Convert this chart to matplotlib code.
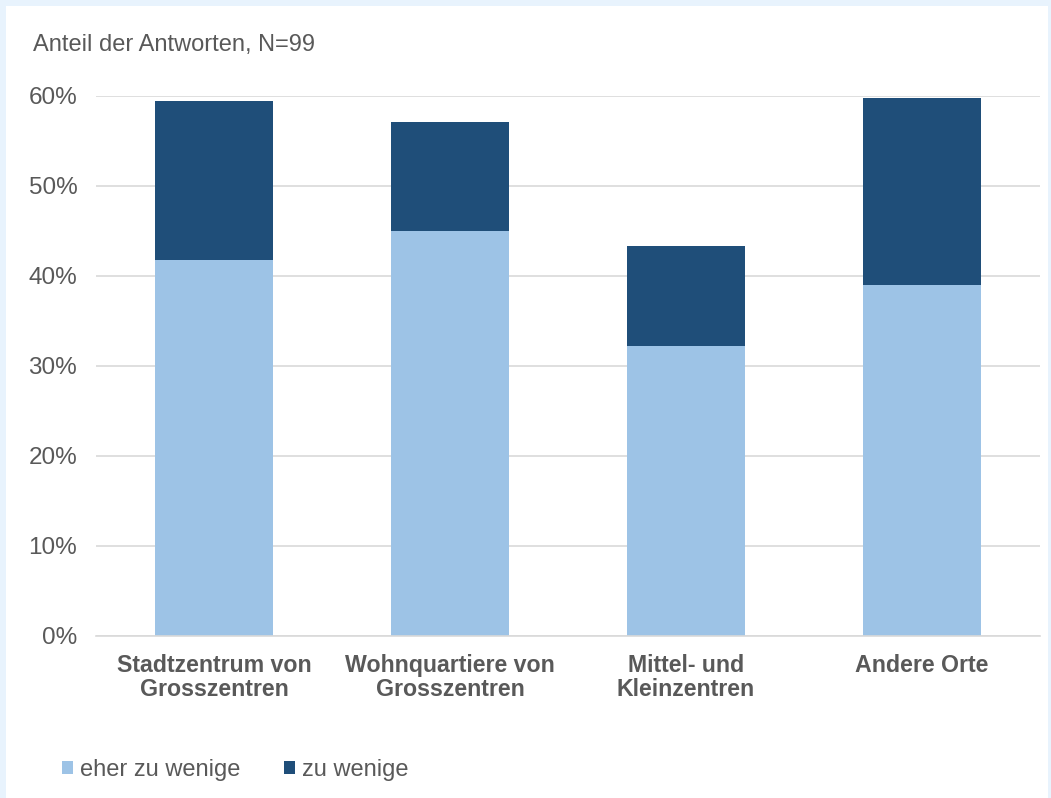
import matplotlib.pyplot as plt
from matplotlib.patches import Rectangle
from matplotlib.ticker import PercentFormatter

plt.rcParams['font.family'] = ['Liberation Sans', 'DejaVu Sans']

categories = ["Stadtzentrum von\nGrosszentren", "Wohnquartiere von\nGrosszentren",
              "Mittel- und\nKleinzentren", "Andere Orte"]
eher_zu_wenige = [41.8, 45.0, 32.2, 39.0]
zu_wenige = [17.6, 12.1, 11.1, 20.8]

light = "#9DC3E6"
dark = "#1F4E79"
text_col = "#595959"

W, H = 1051, 798
fig = plt.figure(figsize=(W / 100, H / 100), dpi=100)
fig.patch.set_facecolor("#E8F3FD")
# white panel inside the light blue frame
fig.patches.append(Rectangle((6 / W, 0), (1048 - 6) / W, (H - 6) / H,
                             transform=fig.transFigure, facecolor="white",
                             edgecolor="none", zorder=-10))

ax = fig.add_axes([96 / W, 1 - 636 / H, (1040 - 96) / W, (636 - 96) / H])
ax.set_facecolor("none")

x = range(len(categories))
ax.bar(x, eher_zu_wenige, width=0.504, color=light, label="eher zu wenige", zorder=2)
ax.bar(x, zu_wenige, width=0.504, bottom=eher_zu_wenige, color=dark,
       label="zu wenige", zorder=2)

ax.set_xlim(-0.5, 3.5)
ax.set_ylim(0, 60)
ax.set_yticks(range(0, 61, 10))
ax.yaxis.set_major_formatter(PercentFormatter(decimals=0))
ax.grid(axis="y", color="#D9D9D9", linewidth=1.2, zorder=0)
for s in ["top", "right", "left"]:
    ax.spines[s].set_visible(False)
ax.spines["bottom"].set_color("#D9D9D9")
ax.spines["bottom"].set_linewidth(1.2)
ax.tick_params(axis="y", length=0, pad=13.5, labelsize=17.5, labelcolor=text_col)
ax.tick_params(axis="x", length=0, pad=13)
ax.set_xticks(list(x))
ax.set_xticklabels(categories, fontsize=16.7, fontweight="bold", color=text_col,
                   linespacing=1.05)

fig.text(33 / W, 1 - 45 / H, "Anteil der Antworten, N=99", fontsize=17,
         color=text_col, va="center", ha="left")

fig.legend(loc="center left", bbox_to_anchor=(41 / W, 1 - 770 / H), ncol=2,
           frameon=False, fontsize=17, handlelength=0.47, handleheight=0.47,
           handletextpad=0.3, columnspacing=1.82, labelcolor=text_col)

fig.savefig("out.png", dpi=100, facecolor=fig.get_facecolor())
